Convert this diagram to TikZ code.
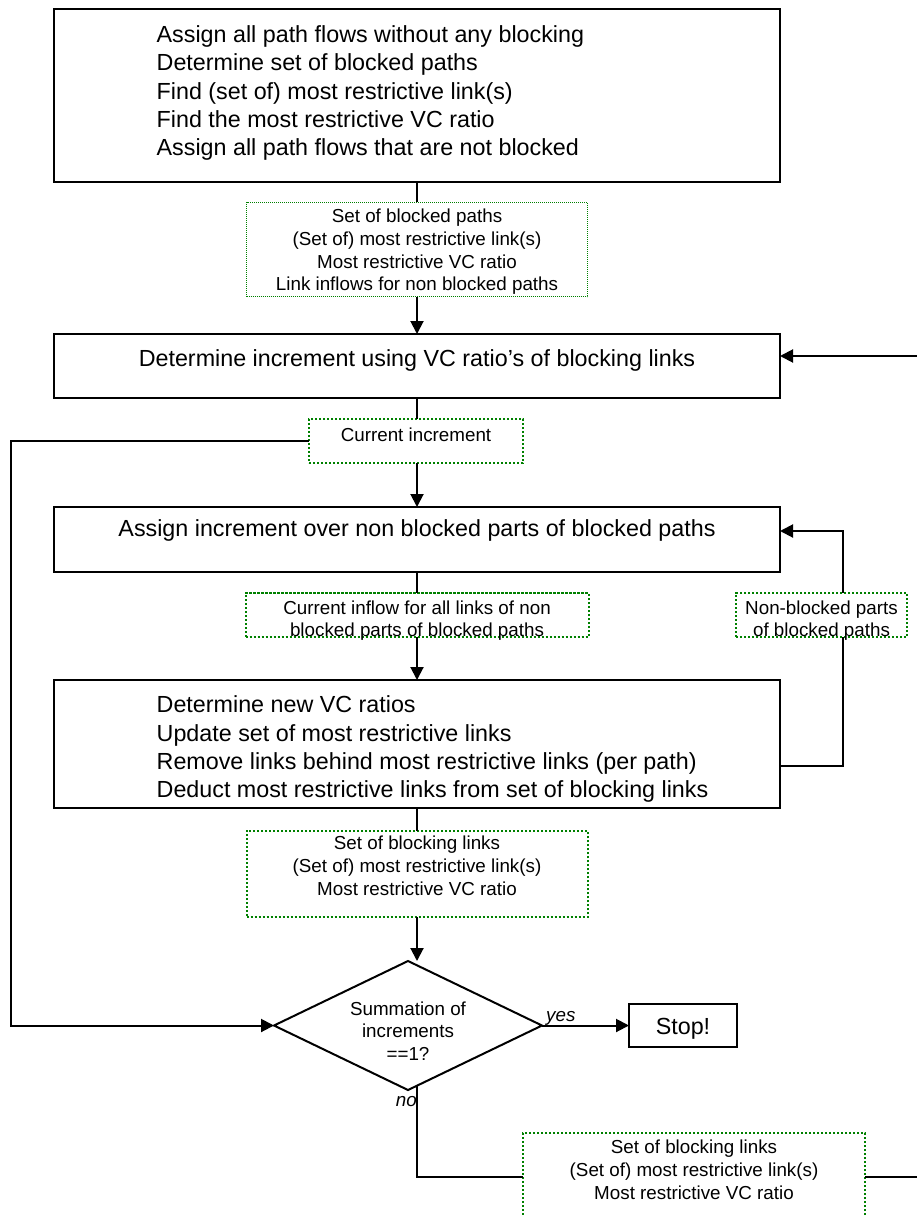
\documentclass[tikz,border=0pt]{standalone}
\usepackage{fontspec}
\setmainfont{Liberation Sans}
\usetikzlibrary{shapes.geometric,arrows.meta}
\definecolor{dotgreen}{RGB}{0,128,0}
\newcommand{\ctab}[1]{\begin{tabular}[t]{@{}c@{}}#1\end{tabular}}
\newcommand{\ltab}[1]{\makebox[726pt][l]{\hspace{102.7pt}\begin{tabular}[t]{@{}l@{}}#1\end{tabular}}}
\tikzset{
  bigtext/.style={font=\fontsize{23.3pt}{28.4pt}\selectfont},
  smalltext/.style={font=\fontsize{18.8pt}{22.9pt}\selectfont},
  blackbox/.style={draw=black, line width=2pt, rectangle, inner sep=0pt, outer sep=0pt, bigtext},
  greenbox/.style={draw=dotgreen, line width=2pt, dash pattern=on 2.1pt off 1.9pt, rectangle, inner sep=0pt, outer sep=0pt, smalltext},
  greenfine/.style={greenbox, line width=1.4pt, dash pattern=on 1.1pt off 0.9pt},
  decision/.style={draw=black, line width=2pt, shape=diamond, aspect=2.08, inner sep=0pt, outer sep=0pt, smalltext},
  conn/.style={draw=black, line width=2pt},
  arr/.style={conn, -{Triangle[length=13pt,width=13pt]}},
  lbl/.style={font=\fontsize{18.8pt}{22.9pt}\selectfont\itshape, inner sep=0pt},
}
\begin{document}
\begin{tikzpicture}[x=1pt,y=-1pt]
\useasboundingbox (0,0) rectangle (917,1217);
\fill[white] (0,0) rectangle (917,1217);
\clip (0,0) rectangle (917,1217);

% boxes
\node[blackbox, minimum width=726pt, minimum height=173pt, text height=10pt, text depth=116.4pt] (init) at (417,95.5)
  {\ltab{Assign all path flows without any blocking\\Determine set of blocked paths\\Find (set of) most restrictive link(s)\\Find the most restrictive VC ratio\\Assign all path flows that are not blocked}};
\node[greenfine, minimum width=341pt, minimum height=94.4pt, text height=10pt, text depth=64.4pt] (g1) at (417,249.5)
  {\ctab{Set of blocked paths\\(Set of) most restrictive link(s)\\Most restrictive VC ratio\\Link inflows for non blocked paths}};
\node[blackbox, minimum width=726pt, minimum height=64pt, text height=12pt, text depth=12pt] (b2) at (417,366)
  {Determine increment using VC ratio’s of blocking links};
\node[greenbox, minimum width=214pt, minimum height=44pt, text height=10pt, text depth=10pt] (g2) at (416,441)
  {Current increment};
\node[blackbox, minimum width=726pt, minimum height=65pt, text height=12pt, text depth=17.8pt] (b3) at (417,539.5)
  {Assign increment over non blocked parts of blocked paths};
\node[greenbox, minimum width=343pt, minimum height=44pt, text height=10pt, text depth=12pt] (g3) at (417,615)
  {\ctab{Current inflow for all links of non\\blocked parts of blocked paths}};
\node[greenbox, minimum width=171pt, minimum height=44pt, text height=10pt, text depth=12pt] (g4) at (821.5,615)
  {\ctab{Non-blocked parts\\of blocked paths}};
\node[blackbox, minimum width=726pt, minimum height=127.7pt, text height=10pt, text depth=72.3pt] (b4) at (417,743.85)
  {\ltab{Determine new VC ratios\\Update set of most restrictive links\\Remove links behind most restrictive links (per path)\\Deduct most restrictive links from set of blocking links}};
\node[greenbox, minimum width=341pt, minimum height=86.6pt, text height=10pt, text depth=59pt] (g5) at (417,874)
  {\ctab{Set of blocking links\\(Set of) most restrictive link(s)\\Most restrictive VC ratio}};
\node[decision, minimum width=268pt, minimum height=129pt, text height=10pt, text depth=31pt] (d) at (408,1025.5)
  {\ctab{Summation of\\increments\\==1?}};
\node[blackbox, minimum width=108pt, minimum height=43pt, text height=17pt, text depth=0pt] (stop) at (683,1025.5)
  {Stop!\hspace{16pt}};
\node[greenbox, minimum width=342pt, minimum height=88pt, text height=10pt, text depth=57.4pt] (g6) at (694,1177)
  {\ctab{Set of blocking links\\(Set of) most restrictive link(s)\\Most restrictive VC ratio}};

% labels
\node[lbl, anchor=base west] (yes) at (546,1021.5) {yes};
\node[lbl, anchor=base east] (no) at (417,1106) {no};

% helper coordinates
\coordinate (lx) at (10.5,0);
\coordinate (rx) at (843,0);
\coordinate (rr) at (935,0);

% connectors
\draw[conn] (init.south) -- (g1.north);
\draw[arr] (g1.south) -- (b2.north);
\draw[conn] (b2.south) -- (g2.north -| b2.south);
\draw[arr] (g2.south -| b3.north) -- (b3.north);
\draw[conn] (b3.south) -- (g3.north);
\draw[arr] (g3.south) -- (b4.north);
\draw[conn] (b4.south) -- (g5.north);
\draw[arr] (g5.south) -- (g5.south |- d.north);
\draw[arr] (g2.west) -- (g2.west -| lx) |- (d.west);
\draw[arr] (d.east) -- (stop.west);
\draw[conn] ([yshift=-22pt]b4.east) -| (rx |- g4.south);
\draw[arr] (rx |- g4.north) |- ([yshift=8.5pt]b3.east);
\draw[conn] ([xshift=9pt,yshift=4.3pt]d.south) |- (g6.west);
\draw[arr] (g6.east) -- (g6.east -| rr) |- ([yshift=10pt]b2.east);
\end{tikzpicture}
\end{document}
